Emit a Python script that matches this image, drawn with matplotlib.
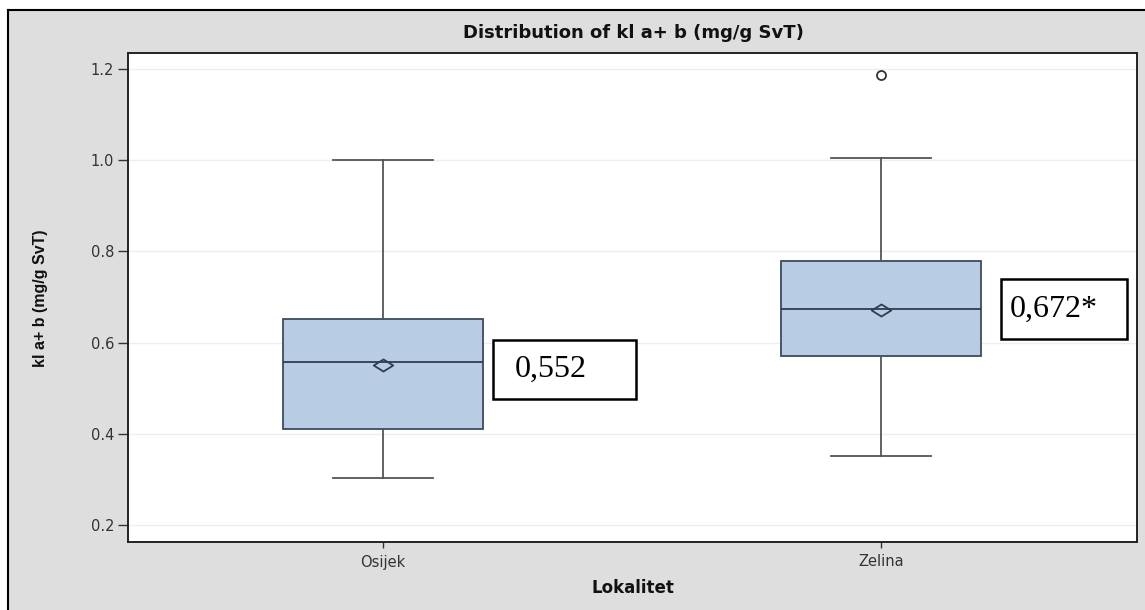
import matplotlib
matplotlib.use("Agg")
import matplotlib.pyplot as plt
from matplotlib.patches import Rectangle
from matplotlib.lines import Line2D
from matplotlib.path import Path
import numpy as np

# ---- data ----
categories = ["Osijek", "Zelina"]
q1 = [0.411, 0.571]
median = [0.557, 0.674]
q3 = [0.652, 0.779]
whisker_low = [0.303, 0.351]
whisker_high = [1.000, 1.004]
means = [0.552, 0.672]
outliers = [[], [1.187]]
annot_text = ["0,552", "0,672*"]
yticks = [0.2, 0.4, 0.6, 0.8, 1.0, 1.2]

title = "Distribution of kl a+ b (mg/g SvT)"
xlabel = "Lokalitet"
ylabel = "kl a+ b (mg/g SvT)"

W, H = 1145, 610
fig = plt.figure(figsize=(W / 100, H / 100), dpi=100)
fig.patch.set_facecolor("white")

# outer gray frame
fig.patches.append(Rectangle((8 / W, 0), 1, 1 - 10 / H, transform=fig.transFigure,
                             facecolor="#dedede", edgecolor="none", zorder=-5))
fig.lines.append(Line2D([8 / W, 8 / W], [0, 1 - 10 / H], transform=fig.transFigure,
                        color="black", lw=1.5, zorder=-4))
fig.lines.append(Line2D([8 / W, 1], [1 - 10 / H, 1 - 10 / H], transform=fig.transFigure,
                        color="black", lw=1.5, zorder=-4))

ax = fig.add_axes([128 / W, 68 / H, (1137 - 128) / W, (542 - 53) / H])
ax.set_zorder(1)
ax.set_facecolor("white")

stats = []
for i, c in enumerate(categories):
    stats.append(dict(label=c, q1=q1[i], med=median[i], q3=q3[i],
                      whislo=whisker_low[i], whishi=whisker_high[i],
                      mean=means[i], fliers=outliers[i]))

diamond = Path([(-1, 0), (0, 0.62), (1, 0), (0, -0.62), (-1, 0)],
               [Path.MOVETO, Path.LINETO, Path.LINETO, Path.LINETO, Path.CLOSEPOLY])

positions = np.arange(len(categories))
ax.bxp(stats, positions=positions, widths=0.40, capwidths=0.20,
       showmeans=True, showfliers=True, patch_artist=True,
       boxprops=dict(facecolor="#b8cce4", edgecolor="#3d4b5c", linewidth=1.3),
       medianprops=dict(color="#2e3d50", linewidth=1.3),
       whiskerprops=dict(color="#555555", linewidth=1.3),
       capprops=dict(color="#555555", linewidth=1.3),
       meanprops=dict(marker=diamond, markerfacecolor="none", markeredgecolor="#2e3d50",
                      markersize=14, markeredgewidth=1.3),
       flierprops=dict(marker="o", markerfacecolor="none", markeredgecolor="#333333",
                       markersize=6.5, markeredgewidth=1.3),
       zorder=3)

ax.set_xlim(-0.512, 1.514)
ax.set_ylim(0.163, 1.235)
ax.set_yticks(yticks)
ax.set_yticklabels([f"{v:.1f}" for v in yticks])
ax.set_xticks(positions)
ax.set_xticklabels(categories)

ax.yaxis.grid(True, color="#eeeeee", linewidth=1.0, zorder=0)
ax.set_axisbelow(True)

for s in ax.spines.values():
    s.set_color("#222222")
    s.set_linewidth(1.4)

ax.tick_params(axis="y", length=7, width=1, color="#333333", labelsize=10.5,
               labelcolor="#333333", pad=3)
ax.tick_params(axis="x", length=4, width=1, color="#333333", labelsize=10.5,
               labelcolor="#333333", pad=5)
for lab in ax.get_xticklabels() + ax.get_yticklabels():
    lab.set_fontfamily(["DejaVu Sans"])

ax.set_xlabel(xlabel, fontsize=12, fontweight="bold", family=["DejaVu Sans"],
              labelpad=7, color="#111111")
fig.text(41 / W, 1 - 298 / H, ylabel, rotation=90, ha="center", va="center",
         fontsize=11.5, fontweight="bold", color="#111111",
         family=["Liberation Sans Narrow", "Liberation Sans", "DejaVu Sans"])
fig.text(633 / W, 1 - 33 / H, title, ha="center", va="center", fontsize=13,
         fontweight="bold", color="#111111", family=["DejaVu Sans"])

# annotation boxes
boxes = [(493, 340, 636, 399, 515), (1001, 279, 1127, 339, 1010)]
for (x0, y0, x1, y1, tx), txt in zip(boxes, annot_text):
    fig.patches.append(Rectangle((x0 / W, 1 - y1 / H), (x1 - x0) / W, (y1 - y0) / H,
                                 transform=fig.transFigure, facecolor="white",
                                 edgecolor="black", linewidth=1.8, zorder=5))
    fig.text(tx / W, 1 - (y0 + y1) / 2 / H, txt, ha="left", va="center", fontsize=23,
             family=["Liberation Serif", "DejaVu Serif"], color="black", zorder=6)

fig.savefig("out.png", dpi=100, facecolor=fig.get_facecolor())
